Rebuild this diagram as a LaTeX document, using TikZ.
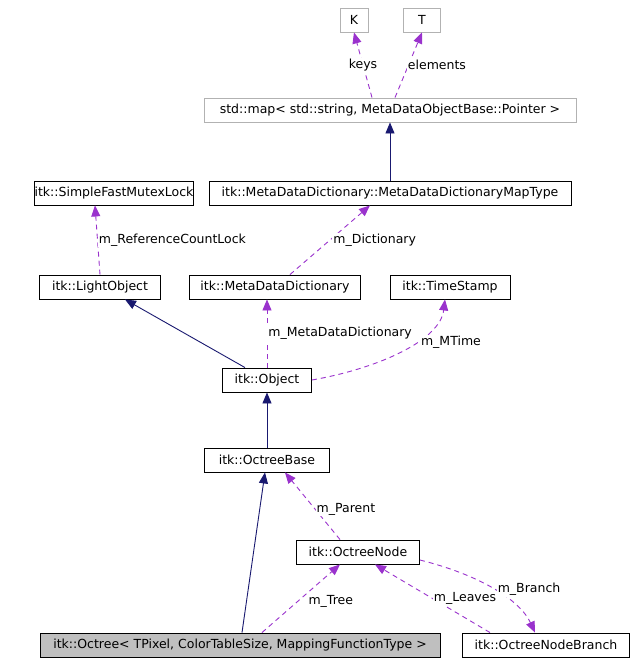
\documentclass[tikz,border=0pt]{standalone}
\usepackage{fontspec}
\setmainfont{DejaVu Sans}
\usetikzlibrary{arrows.meta}
\definecolor{navy}{RGB}{25,25,112}
\definecolor{purp}{RGB}{154,50,205}
\begin{document}
\begin{tikzpicture}[x=1pt,y=-1pt,line width=0.9pt,
  box/.style={draw=black,fill=white,font=\fontsize{12.5}{14}\selectfont,inner sep=0pt,minimum height=24pt},
  gbox/.style={box,draw=gray!60},
  inh/.style={draw=navy,-{Triangle[length=11pt,width=9pt,fill=navy]}},
  use/.style={draw=purp,dash pattern=on 5pt off 4pt,-{Triangle[length=11pt,width=9pt,fill=purp]}},
  lbl/.style={font=\fontsize{12.5}{14}\selectfont,fill=white,inner sep=1pt}]
\useasboundingbox[fill=white] (0,0) rectangle (635,667);
\node[gbox,minimum width=28pt] (K) at (354,20) {K};
\node[gbox,minimum width=37pt] (T) at (422,20) {T};
\node[gbox,minimum width=372pt] (map) at (390,110) {std::map< std::string, MetaDataObjectBase::Pointer >};
\node[box,minimum width=362pt] (mt) at (390,193) {itk::MetaDataDictionary::MetaDataDictionaryMapType};
\node[box,minimum width=148pt] (sfm) at (114,193) {itk::SimpleFastMutexLock};
\node[box,minimum width=121pt] (lo) at (100,287) {itk::LightObject};
\node[box,minimum width=171pt] (mdd) at (275,287) {itk::MetaDataDictionary};
\node[box,minimum width=120pt] (ts) at (450,287) {itk::TimeStamp};
\node[box,minimum width=89pt] (obj) at (267,380) {itk::Object};
\node[box,minimum width=125pt] (ob) at (267,460) {itk::OctreeBase};
\node[box,minimum width=123pt] (on) at (358,552) {itk::OctreeNode};
\node[box,fill=gray!50,minimum width=400pt] (oc) at (240,645) {itk::Octree< TPixel, ColorTableSize, MappingFunctionType >};
\node[box,minimum width=167pt] (onb) at (546,645) {itk::OctreeNodeBranch};

\draw[use] (map.north -| 372,0) -- (K.south) node[lbl,pos=0.5] (l1) {keys};
\draw[use] (map.north -| 395,0) -- (T.south) node[lbl,pos=0.5,right=-2pt] (l2) {elements};
\draw[inh] (mt.north) -- (map.south);
\draw[use] (mdd.north -| 290,0) -- (mt.south -| 370,0) node[lbl,pos=0.5,right=2pt] (l3) {m\_Dictionary};
\draw[use] (lo.north) -- (sfm.south -| 95,0) node[lbl,pos=0.5,right=0pt] (l4) {m\_ReferenceCountLock};
\draw[inh] (obj.north -| 245,0) -- (lo.south -| 125,0);
\draw[use] (obj.north) -- (mdd.south -| 267,0) node[lbl,pos=0.5,right=0pt] (l5) {m\_MetaDataDictionary};
\draw[use] (obj.east) .. controls (380,368) and (440,340) .. (ts.south -| 445,0) node[lbl,pos=0.6,right=4pt] (l6) {m\_MTime};
\draw[inh] (ob.north) -- (obj.south);
\draw[inh] (oc.north -| 242,0) -- (ob.south -| 265,0);
\draw[use] (on.north -| 340,0) -- (ob.south -| 285,0) node[lbl,pos=0.45,right=0pt] (l7) {m\_Parent};
\draw[use] (oc.north -| 262,0) -- (on.south -| 340,0) node[lbl,pos=0.45,right=10pt] (l8) {m\_Tree};
\draw[use] (onb.north -| 490,0) -- (on.south -| 375,0) node[lbl,pos=0.5,right=0pt] (l9) {m\_Leaves};
\draw[use] (on.east |- 0,560) .. controls (480,575) and (520,600) .. (onb.north -| 535,0) node[lbl,pos=0.5,right=2pt] (l10) {m\_Branch};
\end{tikzpicture}
\end{document}
